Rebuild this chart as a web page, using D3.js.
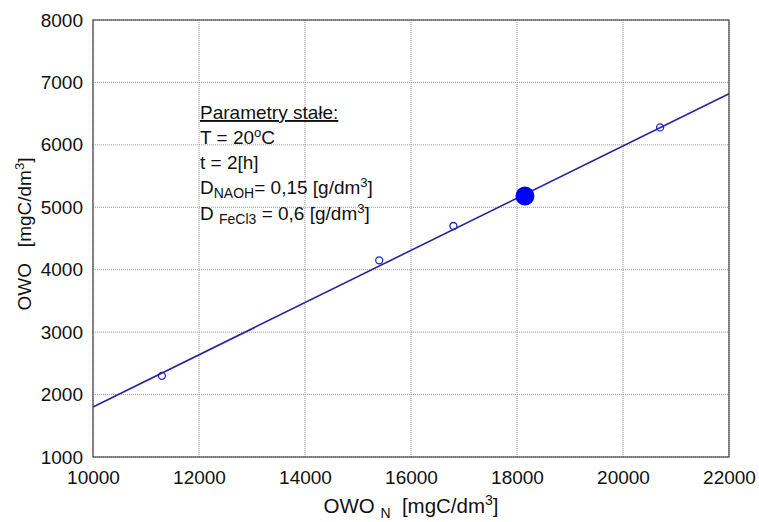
<!DOCTYPE html>
<html>
<head>
<meta charset="utf-8">
<script src="https://cdn.jsdelivr.net/npm/d3@7"></script>
<style>
  body { margin: 0; background: #fff; }
  text { font-family: "Liberation Sans", Arial, sans-serif; fill: #111; white-space: pre; }
</style>
</head>
<body>
<div id="chart"></div>
<script>
// Data
var pointsX = [11300, 15400, 16800, 20700];
var pointsY = [2300, 4150, 4700, 6280];
var bigX = [18150];
var bigY = [5180];
var fitX = [10000, 22000];
var fitY = [1800, 6820];
var xTicks = [10000, 12000, 14000, 16000, 18000, 20000, 22000];
var yTicks = [1000, 2000, 3000, 4000, 5000, 6000, 7000, 8000];

var svgWidth = 759;
var svgHeight = 522;
var margin = { top: 20, right: 30, bottom: 65, left: 93 };
var width = svgWidth - margin.left - margin.right;
var height = svgHeight - margin.top - margin.bottom;

var svg = d3.select("#chart").append("svg")
  .attr("width", svgWidth)
  .attr("height", svgHeight);

var g = svg.append("g")
  .attr("transform", `translate(${margin.left}, ${margin.top})`);

var x = d3.scaleLinear().domain([10000, 22000]).range([0, width]);
var y = d3.scaleLinear().domain([1000, 8000]).range([height, 0]);

// grid
g.selectAll(".gx").data(xTicks).enter().append("line")
  .attr("x1", d => x(d)).attr("x2", d => x(d))
  .attr("y1", 0).attr("y2", height)
  .attr("stroke", "#999").attr("stroke-dasharray", "1,1");
g.selectAll(".gy").data(yTicks).enter().append("line")
  .attr("x1", 0).attr("x2", width)
  .attr("y1", d => y(d)).attr("y2", d => y(d))
  .attr("stroke", "#999").attr("stroke-dasharray", "1,1");

// frame
g.append("rect").attr("width", width).attr("height", height)
  .attr("fill", "none").attr("stroke", "#444").attr("stroke-width", 1.2);

// axes (labels only)
var bottomAxis = d3.axisBottom(x).tickValues(xTicks).tickSize(0).tickPadding(14).tickFormat(d3.format("d"));
var leftAxis = d3.axisLeft(y).tickValues(yTicks).tickSize(0).tickPadding(10).tickFormat(d3.format("d"));

var xa = g.append("g").attr("transform", `translate(0, ${height})`).call(bottomAxis);
var ya = g.append("g").call(leftAxis);
[xa, ya].forEach(function(a) {
  a.select(".domain").remove();
  a.selectAll("text").attr("font-size", 19).attr("font-family", "Liberation Sans, Arial, sans-serif").attr("fill", "#111");
});

// fit line
var line = d3.line().x(d => x(d[0])).y(d => y(d[1]));
g.append("path")
  .datum(d3.zip(fitX, fitY))
  .attr("d", line)
  .attr("fill", "none")
  .attr("stroke", "#262696")
  .attr("stroke-width", 1.6);

// measured points
g.selectAll(".pt").data(d3.zip(pointsX, pointsY)).enter().append("circle")
  .attr("cx", d => x(d[0])).attr("cy", d => y(d[1]))
  .attr("r", 3.5)
  .attr("fill", "none")
  .attr("stroke", "#2222cc")
  .attr("stroke-width", 1.3);

g.selectAll(".big").data(d3.zip(bigX, bigY)).enter().append("circle")
  .attr("cx", d => x(d[0])).attr("cy", d => y(d[1]))
  .attr("r", 9.5)
  .attr("fill", "#0000ff");

// annotation
svg.append("text").attr("x", 200).attr("y", 119).attr("font-size", 19)
  .attr("text-decoration", "underline").text("Parametry stałe:");
svg.append("text").attr("x", 200).attr("y", 144).attr("font-size", 19)
  .html('T = 20<tspan dy="-7" font-size="13">o</tspan><tspan dy="7">C</tspan>');
svg.append("text").attr("x", 200).attr("y", 169).attr("font-size", 19)
  .text("t = 2[h]");
svg.append("text").attr("x", 200).attr("y", 194).attr("font-size", 19)
  .html('D<tspan dy="4" font-size="14">NAOH</tspan><tspan dy="-4">= 0,15 [g/dm</tspan><tspan dy="-7" font-size="13">3</tspan><tspan dy="7">]</tspan>');
svg.append("text").attr("x", 200).attr("y", 220).attr("font-size", 19)
  .html('D <tspan dy="4" font-size="14">FeCl3</tspan><tspan dy="-4"> = 0,6 [g/dm</tspan><tspan dy="-7" font-size="13">3</tspan><tspan dy="7">]</tspan>');

// axis titles
svg.append("text")
  .attr("transform", "translate(31, 234) rotate(-90)")
  .attr("text-anchor", "middle").attr("font-size", 19)
  .html('OWO   [mgC/dm<tspan dy="-7" font-size="13">3</tspan><tspan dy="7">]</tspan>');

svg.append("text")
  .attr("x", 411).attr("y", 513)
  .attr("text-anchor", "middle").attr("font-size", 20.5)
  .html('OWO <tspan dy="5" font-size="14">N</tspan><tspan dy="-5">  [mgC/dm</tspan><tspan dy="-8" font-size="14">3</tspan><tspan dy="8">]</tspan>');
</script>
</body>
</html>
